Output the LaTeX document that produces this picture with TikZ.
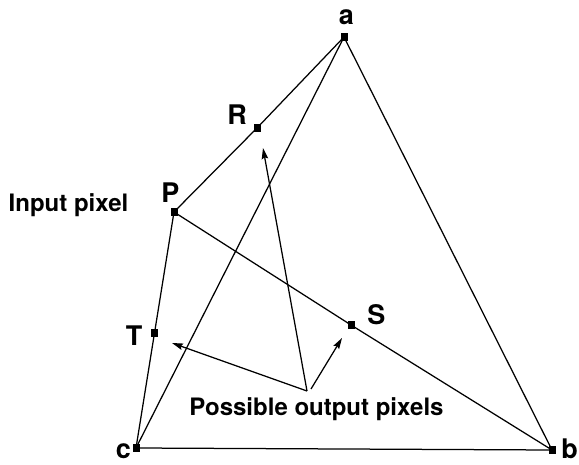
\documentclass[tikz,border=0pt]{standalone}
\usepackage{fontspec}
\setmainfont{TeX Gyre Heros}
\usetikzlibrary{arrows.meta}
\begin{document}
\begin{tikzpicture}[x=1pt,y=-1pt,
  edge/.style={line width=1.25pt},
  pt/.style={fill=black,inner sep=0pt,minimum width=7pt,minimum height=7.5pt},
  lbl/.style={font=\fontsize{27}{30}\selectfont\bfseries,inner sep=0pt,anchor=base},
  txt/.style={font=\fontsize{24}{28}\selectfont\bfseries,inner sep=0pt,anchor=base},
  arr/.style={line width=1.25pt,-{Stealth[length=11pt,width=6.5pt,inset=1.5pt]}}]
\useasboundingbox (0,0) rectangle (579,465);
% points
\coordinate (a) at (344,37);
\coordinate (b) at (552,450);
\coordinate (c) at (136,448);
\coordinate (R) at (257,128);
\coordinate (P) at (174,212);
\coordinate (T) at (154.5,333);
\coordinate (S) at (351,325);
\coordinate (o) at (307,391);
\coordinate (o2) at (311,389);
\coordinate (tT) at (172,343);
\coordinate (tR) at (263,148);
\coordinate (tS) at (342,338);
% lines
\draw[edge] (a) -- (b) -- (c) -- cycle;
\draw[edge] (a) -- (R) -- (P);
\draw[edge] (P) -- (T) -- (c);
\draw[edge] (P) -- (S) -- (b);
% squares
\foreach \p in {a,b,c,R,P,T,S} \node[pt] (sq\p) at (\p) {};
% arrows
\draw[arr] (o) -- (tT);
\draw[arr] (o) -- (tR);
\draw[arr] (o2) -- (tS);
% labels
\node[lbl] (la) at (346.5,25) {a};
\node[lbl] (lR) at (237,125) {R};
\node[lbl] (lP) at (170.5,203) {P};
\node[lbl] (lT) at (134,345) {T};
\node[lbl] (lS) at (376.5,325) {S};
\node[lbl] (lc) at (123.5,458.5) {c};
\node[lbl] (lb) at (569.5,458.5) {b};
\node[txt] (inp) at (68.5,212) {Input pixel};
\node[txt] (out) at (316.5,415) {Possible output pixels};
\end{tikzpicture}
\end{document}
